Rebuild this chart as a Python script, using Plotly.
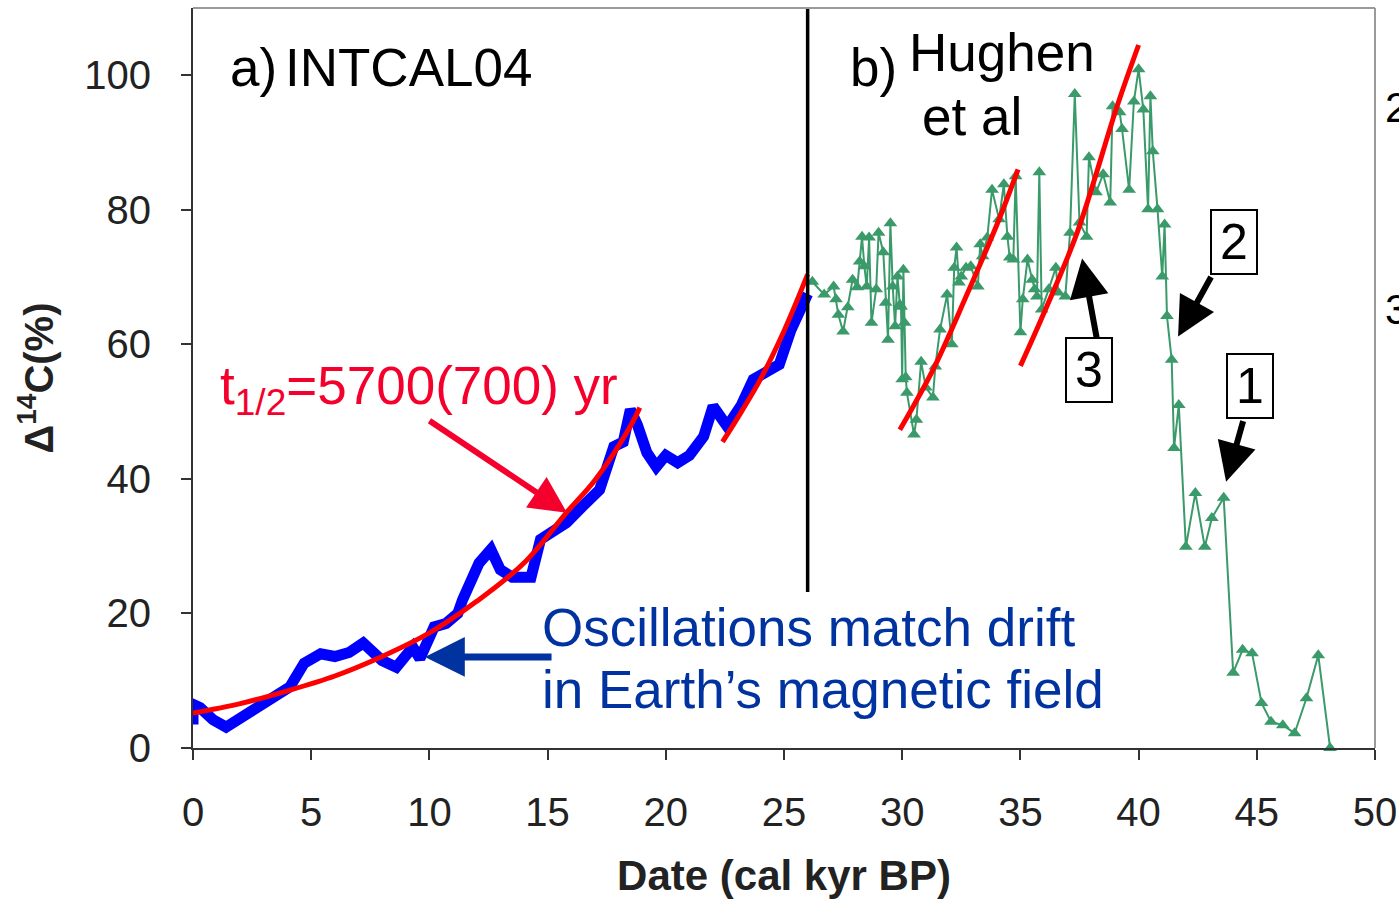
import plotly.graph_objects as go

FONT = "Liberation Sans, Arial, sans-serif"

# ---- INTCAL04 (blue) ----
intcal_kyr = [0.0, 0.0, 0.3, 0.85, 1.4, 2.3, 3.1, 4.1, 4.7, 5.1, 5.4, 6.0, 6.6, 7.2, 7.6,
              8.0, 8.6, 9.3, 9.6, 10.2, 10.7, 11.2, 11.4, 12.1, 12.6, 13.0, 13.5, 14.3,
              14.7, 15.2, 15.8, 16.5, 17.2, 17.8, 18.2, 18.5, 18.8, 19.2, 19.6, 20.0,
              20.5, 21.0, 21.6, 22.0, 22.6, 23.2, 23.7, 24.3, 24.8, 25.3, 25.7, 26.0]
intcal_d14c = [3.5, 6.5, 6.0, 4.2, 3.1, 5.2, 7.1, 9.1, 12.6, 13.5, 14.0, 13.6, 14.2, 15.6, 14.2,
               13.0, 12.0, 15.0, 13.3, 18.0, 18.5, 20.0, 22.0, 27.5, 29.5, 26.5, 25.4, 25.4,
               31.0, 32.0, 33.5, 36.0, 38.4, 44.8, 45.5, 50.3, 48.0, 43.9, 41.8, 43.5,
               42.4, 43.5, 46.3, 50.8, 47.8, 51.0, 54.8, 56.0, 57.0, 62.2, 65.0, 67.5]

# ---- Hughen et al (green) ----
hughen_kyr = [26.2, 26.7, 27.1, 27.2, 27.3, 27.5, 27.7, 27.9, 28.1, 28.2, 28.3, 28.4, 28.5,
              28.6, 28.7, 28.9, 29.0, 29.2, 29.3, 29.4, 29.5, 29.6, 29.7, 29.8, 29.9, 29.95,
              30.0, 30.05, 30.1, 30.15, 30.2, 30.5, 30.6, 30.8, 31.0, 31.3, 31.4, 31.6, 31.9,
              32.1, 32.2, 32.3, 32.4, 32.5, 32.7, 32.9, 33.2, 33.3, 33.4, 33.6, 33.8, 34.1,
              34.3, 34.45, 34.55, 34.7, 34.8, 35.0, 35.1, 35.3, 35.5, 35.6, 35.7, 35.8, 35.9,
              36.2, 36.5, 36.6, 36.9, 37.1, 37.3, 37.5, 37.8, 37.9, 38.2, 38.5, 38.8, 38.9,
              39.2, 39.3, 39.6, 39.8, 40.0, 40.2, 40.4, 40.5, 40.6, 40.8, 41.0, 41.1, 41.2,
              41.4, 41.5, 41.7, 42.0, 42.4, 42.8, 43.1, 43.6, 44.0, 44.4, 44.8, 45.2, 45.6,
              46.1, 46.6, 47.1, 47.6, 48.1]
hughen_d14c = [69.3, 67.4, 68.6, 66.7, 64.4, 61.9, 65.5, 69.6, 68.5, 72.3, 76.0, 71.6, 68.6,
               75.9, 63.2, 68.2, 76.6, 73.7, 66.2, 60.7, 78.0, 68.6, 62.7, 70.1, 65.9, 65.6,
               54.8, 71.1, 63.2, 55.1, 52.8, 46.6, 48.8, 57.4, 53.6, 52.1, 56.7, 62.2, 67.4,
               60.0, 71.4, 74.4, 69.2, 70.1, 71.4, 71.6, 68.6, 74.9, 73.1, 75.9, 83.0, 78.6,
               83.8, 76.0, 72.9, 72.6, 85.0, 61.8, 66.7, 72.6, 69.6, 68.2, 67.1, 85.6, 65.2,
               68.2, 71.4, 67.7, 67.1, 76.6, 97.2, 78.1, 76.0, 87.8, 82.6, 85.3, 81.1, 95.4,
               94.5, 92.0, 83.0, 96.1, 100.9, 94.9, 80.1, 96.9, 88.7, 80.1, 70.1, 77.8, 64.2,
               57.7, 44.6, 51.0, 29.9, 37.9, 29.9, 34.2, 37.2, 11.2, 14.6, 14.1, 6.7, 3.9,
               3.4, 2.2, 7.4, 13.8, 0.0]

# ---- red fitted segments ----
fit1_kyr = [0, 2, 4, 6, 8, 10, 12, 14, 15.8, 17, 18.4, 18.9]
fit1_val = [5.2, 6.6, 8.5, 10.7, 13.6, 17.1, 21.8, 27.5, 35.0, 39.8, 47.2, 50.6]
fit2_kyr = [22.4, 23.2, 24.0, 25.0, 26.0]
fit2_val = [45.5, 50.0, 54.8, 62.0, 70.4]
fit3_kyr = [29.9, 31.3, 32.7, 34.1, 34.9]
fit3_val = [47.3, 56.2, 67.1, 78.6, 86.0]
fit4_kyr = [35.0, 36.0, 37.4, 39.1, 40.0]
fit4_val = [56.8, 64.7, 76.6, 95.5, 104.5]

x_ticks = [0, 5, 10, 15, 20, 25, 30, 35, 40, 45, 50]
y_ticks = [0, 20, 40, 60, 80, 100]
divider_x = 26
divider_bottom = 23.2

GREEN = "#3a9a6a"
RED = "#ff0000"
TXT_RED = "#f5002d"
NAVY = "#0033a0"

fig = go.Figure()
fig.add_trace(go.Scatter(x=intcal_kyr, y=intcal_d14c, mode="lines",
                         line=dict(color="#0000ff", width=11), cliponaxis=False,
                         showlegend=False))
fig.add_trace(go.Scatter(x=hughen_kyr, y=hughen_d14c, mode="lines+markers",
                         line=dict(color=GREEN, width=2),
                         marker=dict(symbol="triangle-up", size=12, color=GREEN),
                         cliponaxis=False, showlegend=False))
for fx, fy in [(fit1_kyr, fit1_val), (fit2_kyr, fit2_val), (fit3_kyr, fit3_val), (fit4_kyr, fit4_val)]:
    fig.add_trace(go.Scatter(x=fx, y=fy, mode="lines",
                             line=dict(color=RED, width=5, shape="spline"),
                             cliponaxis=False, showlegend=False))

# divider line
fig.add_shape(type="line", x0=divider_x, x1=divider_x, y0=divider_bottom, y1=110,
              xref="x", yref="y", line=dict(color="black", width=3.5))
# top and right frame (gray)
fig.add_shape(type="line", x0=0, x1=1, y0=1, y1=1, xref="paper", yref="paper",
              line=dict(color="#9a9a9a", width=2))
fig.add_shape(type="line", x0=1, x1=1, y0=0, y1=1, xref="paper", yref="paper",
              line=dict(color="#9a9a9a", width=2))

ann = []
def txt(x, y, s, size=53, color="black", xanchor="left"):
    ann.append(dict(x=x, y=y, xref="x", yref="y", text=s, showarrow=False,
                    xanchor=xanchor, yanchor="middle",
                    font=dict(family=FONT, size=size, color=color)))

def arrow(tip, tail, color, width, size):
    ann.append(dict(x=tip[0], y=tip[1], ax=tail[0], ay=tail[1], xref="x", yref="y",
                    axref="x", ayref="y", text="", showarrow=True, arrowhead=2,
                    arrowwidth=width, arrowsize=size, arrowcolor=color, standoff=0))

txt(1.48, 101.2, "a)")
txt(3.81, 101.2, "INTCAL04")
txt(27.7, 101.2, "b)")
txt(30.2, 103.4, "Hughen")
txt(30.75, 93.9, "et al")
txt(1.06, 53.3, "t<sub>1/2</sub>=5700(700) yr", color=TXT_RED)
txt(14.68, 17.86, "Oscillations match drift", color=NAVY)
txt(14.68, 8.63, "in Earth\u2019s magnetic field", color=NAVY)

arrow((15.82, 34.97), (9.94, 48.81), TXT_RED, 6, 1.23)
arrow((9.81, 13.54), (15.23, 13.54), NAVY, 7, 1.14)
arrow((41.67, 61.16), (43.10, 70.24), "black", 6, 1.3)
arrow((37.61, 72.77), (38.24, 60.71), "black", 6, 1.3)
arrow((43.70, 39.58), (44.44, 48.81), "black", 6, 1.3)

for (bx, by, lab) in [(44.04, 75.15, "2"), (37.90, 56.25, "3"), (44.71, 53.87, "1")]:
    ann.append(dict(x=bx, y=by, xref="x", yref="y", text=lab, showarrow=False,
                    xanchor="center", yanchor="middle", width=42, height=60,
                    bgcolor="white", bordercolor="black", borderwidth=2, borderpad=1,
                    font=dict(family=FONT, size=50, color="black")))

# cut-off labels at right edge
for (py, lab) in [(0.866, "2"), (0.592, "3")]:
    ann.append(dict(x=1.0, y=py, xref="paper", yref="paper", xshift=8, text=lab,
                    showarrow=False, xanchor="left", yanchor="middle",
                    font=dict(family=FONT, size=42, color="black")))

fig.update_layout(
    width=1399, height=906,
    margin=dict(l=193, r=24, t=8, b=158, autoexpand=False),
    plot_bgcolor="white", paper_bgcolor="white",
    annotations=ann,
    xaxis=dict(range=[0, 50], tickvals=x_ticks, ticktext=[str(v) for v in x_ticks],
               automargin=False,
               showgrid=False, zeroline=False, showline=True, linecolor="#333333",
               linewidth=2, ticks="outside", ticklen=10, tickwidth=2, tickcolor="#333333",
               ticklabelstandoff=18,
               tickfont=dict(family=FONT, size=40, color="#222222"),
               title=dict(text="<b>Date (cal kyr BP)</b>", standoff=28,
                          font=dict(family=FONT, size=42, color="#222222"))),
    yaxis=dict(range=[0, 110], tickvals=y_ticks, ticktext=[str(v) for v in y_ticks],
               automargin=False,
               showgrid=False, zeroline=False, showline=True, linecolor="#333333",
               linewidth=2, ticks="outside", ticklen=10, tickwidth=2, tickcolor="#333333",
               ticklabelstandoff=22,
               tickfont=dict(family=FONT, size=40, color="#222222"),
               title=dict(text="<b>\u0394<sup>14</sup>C(%)</b>", standoff=18,
                          font=dict(family=FONT, size=40, color="#222222"))),
)

fig.write_html("out.html")
